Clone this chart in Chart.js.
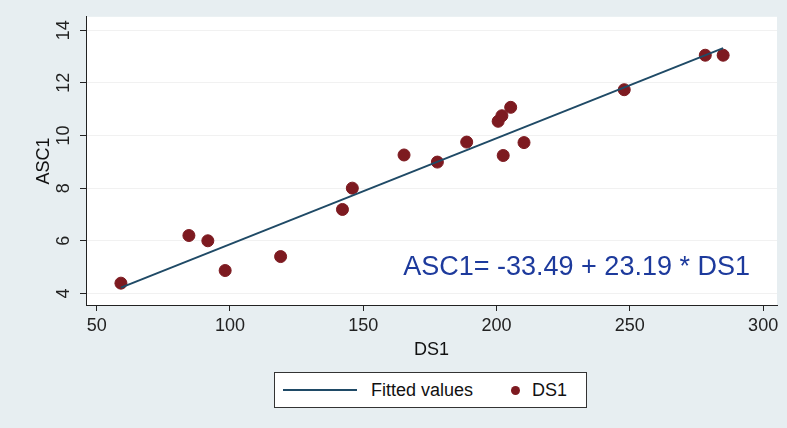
<!DOCTYPE html>
<html>
<head>
<meta charset="utf-8">
<script src="https://cdn.jsdelivr.net/npm/chart.js@4.4.0/dist/chart.umd.min.js"></script>
<style>
  html, body { margin: 0; padding: 0; background: #e7eef1; }
  #wrap { position: relative; width: 787px; height: 428px; }
  #legend {
    position: absolute; left: 274px; top: 372px; width: 311px; height: 34px;
    border: 1px solid #333; background: #fff;
    display: flex; align-items: center;
    font: 18px "Liberation Sans", Arial, sans-serif; color: #111;
  }
  #legend .line { margin-left: 8px; width: 74px; height: 2px; }
  #legend .dot { width: 9px; height: 9px; border-radius: 50%; margin-left: 38px; }
  #legend .txt { margin-left: 14px; }
  #legend .dot + .txt { margin-left: 12px; }
</style>
</head>
<body>
<div id="wrap">
  <canvas id="chart" width="787" height="428"></canvas>
  <div id="legend"></div>
</div>
<script>
// DS1 vs ASC1 observations
const ds1 = [59.1, 84.6, 91.7, 98.2, 119.0, 142.2, 145.9, 165.3, 177.8, 188.8,
             200.6, 202.0, 205.3, 202.5, 210.3, 247.9, 278.3, 285.0];
const asc1 = [4.39, 6.20, 6.00, 4.87, 5.40, 7.19, 8.00, 9.26, 8.99, 9.75,
              10.54, 10.75, 11.07, 9.24, 9.73, 11.74, 13.05, 13.05];

// fitted line end points
const fitX = [59.1, 285.0];
const fitY = [4.22, 13.32];

const xTicks = [50, 100, 150, 200, 250, 300];
const yTicks = [4, 6, 8, 10, 12, 14];

const noteText = "ASC1= -33.49 + 23.19 * DS1";
const notePos = { x: 165, y: 4.97 };

const lineColor = "#1f4a66";
const dotColor = "#7d1a20";
const font = "'Liberation Sans', Arial, sans-serif";

// background + white plot region
const bgPlugin = {
  id: "bg",
  beforeDraw(chart) {
    const { ctx, chartArea: a } = chart;
    ctx.save();
    ctx.fillStyle = "#e7eef1";
    ctx.fillRect(0, 0, chart.width, chart.height);
    ctx.fillStyle = "#ffffff";
    ctx.fillRect(a.left, a.top, a.right - a.left, a.bottom - a.top);
    ctx.restore();
  }
};

// equation text inside the plot
const notePlugin = {
  id: "note",
  afterDatasetsDraw(chart) {
    const { ctx, scales } = chart;
    ctx.save();
    ctx.font = "27px " + font;
    ctx.fillStyle = "#1d3a9c";
    ctx.textAlign = "left";
    ctx.textBaseline = "middle";
    ctx.fillText(noteText, scales.x.getPixelForValue(notePos.x), scales.y.getPixelForValue(notePos.y));
    ctx.restore();
  }
};

const chart = new Chart(document.getElementById("chart"), {
  type: "scatter",
  data: {
    datasets: [
      {
        type: "line",
        label: "Fitted values",
        data: fitX.map((x, i) => ({ x: x, y: fitY[i] })),
        borderColor: lineColor,
        borderWidth: 2,
        pointRadius: 0,
        fill: false
      },
      {
        label: "DS1",
        data: ds1.map((x, i) => ({ x: x, y: asc1[i] })),
        backgroundColor: dotColor,
        borderColor: dotColor,
        pointRadius: 6,
        pointHoverRadius: 6
      }
    ]
  },
  options: {
    responsive: false,
    animation: false,
    layout: { padding: { left: 0, top: 13, right: 10, bottom: 64 } },
    plugins: { legend: { display: false }, tooltip: { enabled: false } },
    scales: {
      x: {
        type: "linear",
        min: 46,
        max: 305.2,
        afterBuildTicks: (s) => { s.ticks = xTicks.map(v => ({ value: v })); },
        afterFit: (s) => { s.height = 59; },
        grid: { drawOnChartArea: false, tickLength: 6, tickColor: "#222" },
        border: { color: "#222", width: 1 },
        ticks: { color: "#222", font: { family: font, size: 18 }, padding: 4 },
        title: { display: true, text: "DS1", color: "#111", font: { family: font, size: 18 }, padding: { top: 0, bottom: 3 } }
      },
      y: {
        min: 3.56,
        max: 14.51,
        afterBuildTicks: (s) => { s.ticks = yTicks.map(v => ({ value: v })); },
        afterFit: (s) => { s.width = 86; },
        grid: { color: "#f1f1f1", tickLength: 6, tickColor: "#222" },
        border: { color: "#222", width: 1 },
        ticks: { color: "#222", font: { family: font, size: 18 }, padding: 6, minRotation: 90, maxRotation: 90, crossAlign: "center" },
        title: { display: true, text: "ASC1", color: "#111", font: { family: font, size: 18 }, padding: { top: 33, bottom: 0 } }
      }
    }
  },
  plugins: [bgPlugin, notePlugin]
});

// legend below the plot, built from the datasets
const legend = document.getElementById("legend");
chart.data.datasets.forEach((d) => {
  const mark = document.createElement("span");
  if (d.type === "line") {
    mark.className = "line";
    mark.style.background = d.borderColor;
  } else {
    mark.className = "dot";
    mark.style.background = d.backgroundColor;
  }
  const txt = document.createElement("span");
  txt.className = "txt";
  txt.textContent = d.label;
  legend.appendChild(mark);
  legend.appendChild(txt);
});
</script>
</body>
</html>
